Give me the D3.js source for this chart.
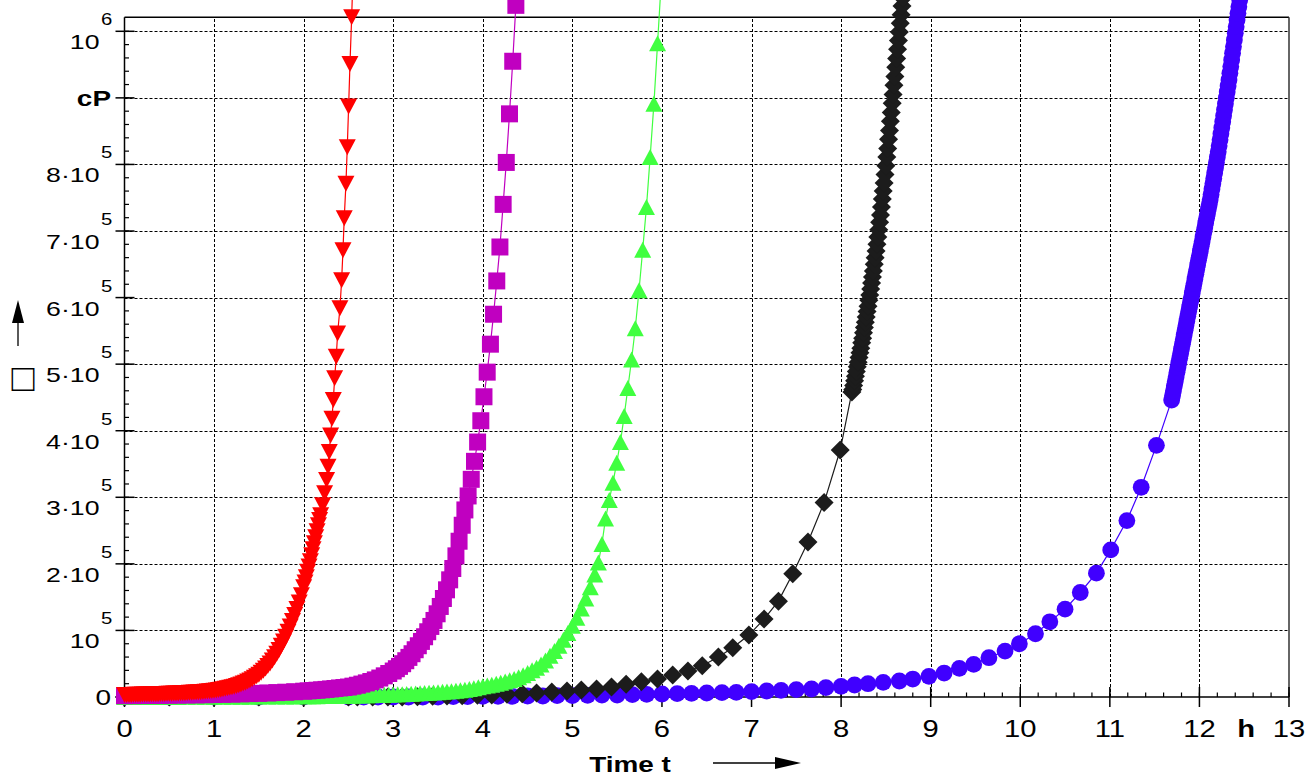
<!DOCTYPE html>
<html>
<head>
<meta charset="utf-8">
<script src="https://cdn.jsdelivr.net/npm/d3@7"></script>
<style>
  body { margin: 0; background: #fff; }
  svg { display: block; }
  text { font-family: "Liberation Sans", Arial, sans-serif; fill: #000; }
</style>
</head>
<body>
<svg id="chart" width="1314" height="776"></svg>
<script>
// time in h, viscosity in units of 1e5 cP
var redData = [
  [0,0.03],[0.025,0.03],[0.05,0.031],[0.075,0.031],[0.1,0.032],[0.125,0.033],[0.15,0.034],[0.175,0.035],[0.2,0.036],[0.225,0.037],
  [0.25,0.038],[0.275,0.039],[0.3,0.04],[0.325,0.041],[0.35,0.042],[0.375,0.043],[0.4,0.044],[0.425,0.045],[0.45,0.046],[0.475,0.047],
  [0.5,0.048],[0.525,0.049],[0.55,0.051],[0.575,0.052],[0.6,0.054],[0.625,0.055],[0.65,0.057],[0.675,0.058],[0.7,0.06],[0.725,0.062],
  [0.75,0.064],[0.775,0.066],[0.8,0.068],[0.825,0.071],[0.85,0.073],[0.875,0.076],[0.9,0.079],[0.925,0.083],[0.95,0.086],[0.975,0.09],
  [1.0,0.094],[1.025,0.099],[1.05,0.104],[1.075,0.11],[1.1,0.116],[1.125,0.123],[1.15,0.13],[1.175,0.138],[1.2,0.146],[1.225,0.155],
  [1.25,0.165],[1.275,0.176],[1.3,0.188],[1.325,0.201],[1.35,0.215],[1.375,0.231],[1.4,0.248],[1.425,0.267],[1.45,0.288],[1.475,0.311],
  [1.5,0.336],[1.525,0.364],[1.55,0.395],[1.575,0.429],[1.6,0.465],[1.625,0.505],[1.65,0.55],[1.675,0.598],[1.7,0.65],[1.725,0.707],
  [1.75,0.77],[1.775,0.835],[1.8,0.905],[1.825,0.98],[1.85,1.06],[1.875,1.143],[1.9,1.23],[1.925,1.322],[1.95,1.42],[1.975,1.53],
  [2.0,1.65],[2.015,1.72],[2.03,1.8],[2.045,1.88],[2.06,1.96],[2.075,2.04],[2.09,2.13],[2.105,2.22],[2.12,2.31],[2.135,2.4],
  [2.15,2.49],[2.165,2.58],[2.178,2.66],[2.19,2.73],[2.212,2.88],[2.234,3.06],[2.256,3.26],[2.272,3.46],[2.286,3.68],[2.301,3.93],
  [2.316,4.18],[2.331,4.46],[2.346,4.79],[2.364,5.11],[2.379,5.46],[2.405,5.84],[2.424,6.26],[2.439,6.71],[2.453,7.19],[2.472,7.71],
  [2.487,8.26],[2.502,8.87],[2.517,9.51],[2.536,10.21],[2.553,10.95]
];
var magentaData = [
  [0,0.02],[0.1,0.021],[0.2,0.022],[0.3,0.023],[0.4,0.024],[0.5,0.026],[0.6,0.028],[0.7,0.03],[0.8,0.032],[0.9,0.034],
  [1.0,0.037],[1.1,0.04],[1.2,0.043],[1.3,0.047],[1.4,0.051],[1.5,0.055],[1.6,0.06],[1.7,0.066],[1.8,0.072],[1.9,0.079],
  [2.0,0.087],[2.05,0.092],[2.1,0.097],[2.15,0.102],[2.2,0.108],[2.25,0.114],[2.3,0.121],[2.35,0.128],[2.4,0.136],[2.45,0.143],
  [2.5,0.15],[2.55,0.163],[2.6,0.177],[2.65,0.194],[2.7,0.212],[2.75,0.233],[2.8,0.257],[2.85,0.285],[2.9,0.318],[2.95,0.353],
  [3.0,0.39],[3.035,0.425],[3.07,0.46],[3.105,0.5],[3.14,0.545],[3.175,0.595],[3.21,0.65],[3.245,0.71],[3.28,0.77],[3.315,0.835],
  [3.35,0.905],[3.385,0.98],[3.42,1.06],[3.455,1.15],[3.49,1.25],[3.525,1.36],[3.56,1.48],[3.595,1.61],[3.63,1.76],[3.665,1.93],
  [3.7,2.12],[3.735,2.34],[3.77,2.58],[3.8,2.81],[3.836,3.02],[3.871,3.27],[3.907,3.54],[3.942,3.83],[3.978,4.15],[4.013,4.51],
  [4.049,4.88],[4.085,5.3],[4.12,5.75],[4.156,6.25],[4.191,6.76],[4.227,7.4],[4.262,8.03],[4.298,8.76],[4.334,9.55],[4.369,10.39],
  [4.4,11.3]
];
var greenData = [
  [0,0],[0.1,0],[0.2,0],[0.3,0],[0.4,0],[0.5,0.001],[0.6,0.001],[0.7,0.002],[0.8,0.002],[0.9,0.003],
  [1.0,0.003],[1.1,0.004],[1.2,0.004],[1.3,0.005],[1.4,0.005],[1.5,0.006],[1.6,0.006],[1.7,0.007],[1.8,0.008],[1.9,0.009],
  [2.0,0.01],[2.05,0.011],[2.1,0.012],[2.15,0.013],[2.2,0.014],[2.25,0.015],[2.3,0.016],[2.35,0.017],[2.4,0.018],[2.45,0.019],
  [2.5,0.02],[2.55,0.021],[2.6,0.022],[2.65,0.024],[2.7,0.025],[2.75,0.027],[2.8,0.029],[2.85,0.031],[2.9,0.033],[2.95,0.035],
  [3.0,0.037],[3.05,0.04],[3.1,0.042],[3.15,0.045],[3.2,0.048],[3.25,0.052],[3.3,0.055],[3.35,0.059],[3.4,0.063],[3.45,0.067],
  [3.5,0.072],[3.55,0.077],[3.6,0.082],[3.65,0.088],[3.7,0.094],[3.75,0.1],[3.8,0.11],[3.85,0.12],[3.9,0.13],[3.95,0.145],
  [4.0,0.16],[4.05,0.172],[4.1,0.185],[4.15,0.2],[4.2,0.215],[4.25,0.232],[4.3,0.25],[4.35,0.27],[4.4,0.295],[4.45,0.325],
  [4.5,0.36],[4.55,0.4],[4.6,0.44],[4.65,0.49],[4.7,0.55],[4.75,0.62],[4.8,0.69],[4.85,0.77],[4.9,0.86],[4.95,0.96],
  [5.0,1.07],[5.05,1.19],[5.1,1.33],[5.15,1.48],[5.2,1.65],[5.25,1.84],[5.29,2.02],[5.33,2.3],[5.37,2.68],[5.412,2.96],
  [5.453,3.22],[5.495,3.52],[5.536,3.83],[5.578,4.22],[5.619,4.64],[5.661,5.07],[5.702,5.54],[5.744,6.11],[5.785,6.72],[5.827,7.36],
  [5.868,8.11],[5.91,8.91],[5.951,9.82],[5.99,10.7]
];
var blackData = [
  [0,0],[0.5,0],[1.0,0],[1.5,0],[2.0,0],[2.5,0],[2.6,0],[2.77,0],[2.94,0],[3.1,0],
  [3.27,0.005],[3.44,0.01],[3.6,0.015],[3.77,0.02],[3.94,0.025],[4.1,0.03],[4.27,0.04],[4.44,0.05],[4.6,0.06],[4.77,0.075],
  [4.94,0.09],[5.1,0.105],[5.27,0.12],[5.437,0.15],[5.6,0.19],[5.77,0.23],[5.95,0.27],[6.12,0.33],[6.29,0.39],[6.45,0.47],
  [6.63,0.6],[6.79,0.74],[6.97,0.93],[7.14,1.17],[7.3,1.44],[7.46,1.85],[7.63,2.33],[7.81,2.92],[7.99,3.71],[8.12,4.58],
  [8.13,4.62],[8.14,4.68],[8.15,4.75],[8.16,4.82],[8.17,4.89],[8.18,4.96],[8.19,5.03],[8.2,5.1],[8.21,5.17],[8.22,5.24],
  [8.23,5.32],[8.24,5.39],[8.25,5.47],[8.26,5.55],[8.27,5.63],[8.28,5.71],[8.29,5.79],[8.3,5.87],[8.31,5.96],[8.32,6.04],
  [8.33,6.13],[8.34,6.22],[8.35,6.31],[8.36,6.4],[8.37,6.5],[8.38,6.6],[8.39,6.7],[8.4,6.8],[8.41,6.91],[8.42,7.02],
  [8.43,7.13],[8.44,7.24],[8.45,7.36],[8.46,7.48],[8.47,7.6],[8.48,7.72],[8.49,7.85],[8.5,7.98],[8.51,8.11],[8.52,8.24],
  [8.53,8.38],[8.54,8.51],[8.55,8.65],[8.56,8.78],[8.57,8.92],[8.58,9.05],[8.59,9.19],[8.6,9.32],[8.61,9.46],[8.62,9.59],
  [8.63,9.73],[8.64,9.86],[8.65,9.99],[8.66,10.12],[8.67,10.25],[8.68,10.38],[8.69,10.5],[8.7,10.63]
];
var blueData = [
  [0,0],[0.5,0],[1.0,0],[1.5,0],[2.0,0],[2.5,0],[2.67,0],[2.83,0],[3.0,0],[3.17,0],
  [3.33,0],[3.5,0],[3.67,0.005],[3.83,0.005],[4.0,0.01],[4.17,0.01],[4.33,0.01],[4.5,0.015],[4.67,0.015],[4.83,0.02],
  [5.0,0.02],[5.17,0.025],[5.33,0.03],[5.5,0.03],[5.67,0.035],[5.83,0.04],[6.0,0.045],[6.17,0.05],[6.33,0.055],[6.5,0.06],
  [6.67,0.065],[6.83,0.07],[7.0,0.08],[7.17,0.09],[7.33,0.1],[7.5,0.11],[7.67,0.12],[7.83,0.14],[8.0,0.16],[8.15,0.18],
  [8.3,0.2],[8.47,0.22],[8.65,0.24],[8.8,0.27],[8.98,0.31],[9.15,0.36],[9.32,0.43],[9.48,0.49],[9.65,0.59],[9.83,0.69],
  [9.99,0.8],[10.17,0.95],[10.33,1.13],[10.5,1.32],[10.67,1.57],[10.85,1.86],[11.01,2.21],[11.19,2.65],[11.35,3.15],[11.52,3.78],
  [11.69,4.46],[11.7,4.53],[11.71,4.6],[11.72,4.67],[11.73,4.74],[11.74,4.81],[11.75,4.88],[11.76,4.95],[11.77,5.02],[11.78,5.09],
  [11.79,5.16],[11.8,5.23],[11.81,5.3],[11.82,5.37],[11.83,5.44],[11.84,5.51],[11.85,5.58],[11.86,5.65],[11.87,5.72],[11.88,5.79],
  [11.89,5.86],[11.9,5.93],[11.91,6.0],[11.92,6.07],[11.93,6.14],[11.94,6.21],[11.95,6.28],[11.96,6.35],[11.97,6.42],[11.98,6.49],
  [11.99,6.56],[12.0,6.63],[12.01,6.7],[12.02,6.77],[12.03,6.84],[12.04,6.91],[12.05,6.98],[12.06,7.05],[12.07,7.12],[12.08,7.19],
  [12.09,7.26],[12.1,7.33],[12.11,7.4],[12.12,7.47],[12.13,7.55],[12.14,7.63],[12.15,7.71],[12.16,7.79],[12.17,7.87],[12.18,7.95],
  [12.19,8.03],[12.2,8.11],[12.21,8.19],[12.22,8.28],[12.23,8.37],[12.24,8.46],[12.25,8.55],[12.26,8.64],[12.27,8.73],[12.28,8.82],
  [12.29,8.91],[12.3,9.0],[12.31,9.09],[12.32,9.18],[12.33,9.27],[12.34,9.37],[12.35,9.47],[12.36,9.57],[12.37,9.67],[12.38,9.77],
  [12.39,9.87],[12.4,9.97],[12.41,10.07],[12.42,10.17],[12.43,10.27],[12.44,10.37],[12.45,10.47],[12.46,10.58],[12.47,10.69]
];

var xTickValues = [0,1,2,3,4,5,6,7,8,9,10,11,12,13];
var xTickLabels = ["0","1","2","3","4","5","6","7","8","9","10","11","12","13"];
var yTickValues = [0,1,2,3,4,5,6,7,8,9,10];
var yTickBase = ["0","10","2\u00b710","3\u00b710","4\u00b710","5\u00b710","6\u00b710","7\u00b710","8\u00b710","cP","10"];
var yTickExp = ["","5","5","5","5","5","5","5","5","","6"];

var svg = d3.select("#chart");
var x = d3.scaleLinear().domain([0, 13]).range([124.5, 1289]);
var y = d3.scaleLinear().domain([0, 10]).range([697, 31.3]);
var yFrameTop = 10.21;
var stretch = 1.27; // the lettering in the picture is wider than Arial

function px(v) { return Math.round(v) + 0.5; }

// dashed grid
var grid = svg.append("g");
grid.selectAll("line.gx")
    .data(xTickValues.filter(function(d) { return d > 0 && d < 13; }))
    .join("line")
    .attr("x1", function(d) { return px(x(d)); })
    .attr("x2", function(d) { return px(x(d)); })
    .attr("y1", y(0))
    .attr("y2", y(yFrameTop))
    .attr("stroke", "#000")
    .attr("stroke-dasharray", "3,2");
grid.selectAll("line.gy")
    .data(yTickValues.filter(function(d) { return d > 0; }))
    .join("line")
    .attr("x1", x(0))
    .attr("x2", x(13))
    .attr("y1", function(d) { return px(y(d)); })
    .attr("y2", function(d) { return px(y(d)); })
    .attr("stroke", "#000")
    .attr("stroke-dasharray", "3,2");

// frame and ticks
var axes = svg.append("g").attr("stroke", "#000").attr("stroke-width", 1.5);
axes.append("line").attr("x1", x(0)).attr("x2", x(0)).attr("y1", y(0)).attr("y2", y(yFrameTop));
axes.append("line").attr("x1", x(0)).attr("x2", x(13)).attr("y1", y(0)).attr("y2", y(0));
axes.append("line").attr("x1", x(0)).attr("x2", x(13)).attr("y1", y(yFrameTop)).attr("y2", y(yFrameTop));
axes.append("line").attr("x1", x(13)).attr("x2", x(13)).attr("y1", y(0)).attr("y2", y(yFrameTop)).attr("stroke", "#333");

var xMinor = x.ticks(65), yMinor = y.ticks(50);
axes.selectAll("line.xm").data(xMinor).join("line")
    .attr("x1", function(d) { return x(d); }).attr("x2", function(d) { return x(d); })
    .attr("y1", y(0)).attr("y2", y(0) - 4.5).attr("stroke-width", 1.2);
axes.selectAll("line.xM").data(xTickValues).join("line")
    .attr("x1", function(d) { return x(d); }).attr("x2", function(d) { return x(d); })
    .attr("y1", y(0) - 10).attr("y2", y(0) + 10);
axes.selectAll("line.ym").data(yMinor.filter(function(d) { return d > 0; })).join("line")
    .attr("x1", x(0)).attr("x2", x(0) + 4.5)
    .attr("y1", function(d) { return y(d); }).attr("y2", function(d) { return y(d); }).attr("stroke-width", 1.2);
axes.selectAll("line.yM").data(yTickValues).join("line")
    .attr("x1", x(0) - 9).attr("x2", x(0) + 10)
    .attr("y1", function(d) { return y(d); }).attr("y2", function(d) { return y(d); });

// series, last in the list ends up on top
var shapes = {
    triDown: "M-8.5,-8L8.5,-8L0,8Z",
    square: "M-8.5,-8.5H8.5V8.5H-8.5Z",
    triUp: "M-8.5,8L8.5,8L0,-8Z",
    diamond: "M0,-9.5L9.5,0L0,9.5L-9.5,0Z",
    circle: d3.symbol(d3.symbolCircle, Math.PI * 8.4 * 8.4)()
};
var series = [
    { data: blueData, color: "#4000ff", shape: shapes.circle },
    { data: blackData, color: "#1c1c1c", shape: shapes.diamond },
    { data: greenData, color: "#40ff40", shape: shapes.triUp },
    { data: magentaData, color: "#c000c0", shape: shapes.square },
    { data: redData, color: "#ff0000", shape: shapes.triDown }
];
var line = d3.line()
    .x(function(d) { return x(d[0]); })
    .y(function(d) { return y(d[1]); });

series.forEach(function(s) {
    var g = svg.append("g");
    g.append("path")
        .attr("d", line(s.data))
        .attr("fill", "none")
        .attr("stroke", s.color)
        .attr("stroke-width", 1.2);
    g.selectAll("path.mark")
        .data(s.data)
        .join("path")
        .attr("class", "mark")
        .attr("transform", function(d) { return "translate(" + x(d[0]) + "," + y(d[1]) + ")"; })
        .attr("d", s.shape)
        .attr("fill", s.color);
});

// text helpers
function label(tx, ty, str, size, weight, anchor) {
    return svg.append("text")
        .attr("transform", "translate(" + tx + "," + ty + ") scale(" + stretch + ",1)")
        .attr("text-anchor", anchor)
        .style("font-size", size + "px")
        .style("font-weight", weight)
        .text(str);
}

// y tick labels
yTickValues.forEach(function(v, i) {
    if (yTickExp[i]) {
        label(99.5, y(v) + 18, yTickBase[i], 21, "normal", "end");
        label(101, y(v) - 6, yTickExp[i], 16, "normal", "start");
    } else {
        label(111, y(v) + 8, yTickBase[i], 22, yTickBase[i] === "cP" ? "bold" : "normal", "end");
    }
});

// x tick labels
xTickValues.forEach(function(v, i) {
    label(x(v), 737, xTickLabels[i], 23, "normal", "middle");
});
label(x(12.5) + 2, 737, "h", 23, "bold", "middle");
label(630, 772, "Time t", 22, "bold", "middle");

// axis arrows
svg.append("line").attr("x1", 713).attr("x2", 778).attr("y1", 763).attr("y2", 763).attr("stroke", "#000").attr("stroke-width", 1.3);
svg.append("path").attr("d", "M775,757L801,763L775,769Z").attr("fill", "#000");
svg.append("line").attr("x1", 18).attr("x2", 18).attr("y1", 346).attr("y2", 320).attr("stroke", "#000").attr("stroke-width", 1.3);
svg.append("path").attr("d", "M12,323L18,300L24,323Z").attr("fill", "#000");

// y quantity symbol (shown as an empty box in the picture)
svg.append("text")
    .attr("x", 23).attr("y", 391)
    .attr("text-anchor", "middle")
    .style("font-size", "38px")
    .text("\u25a1");
</script>
</body>
</html>
